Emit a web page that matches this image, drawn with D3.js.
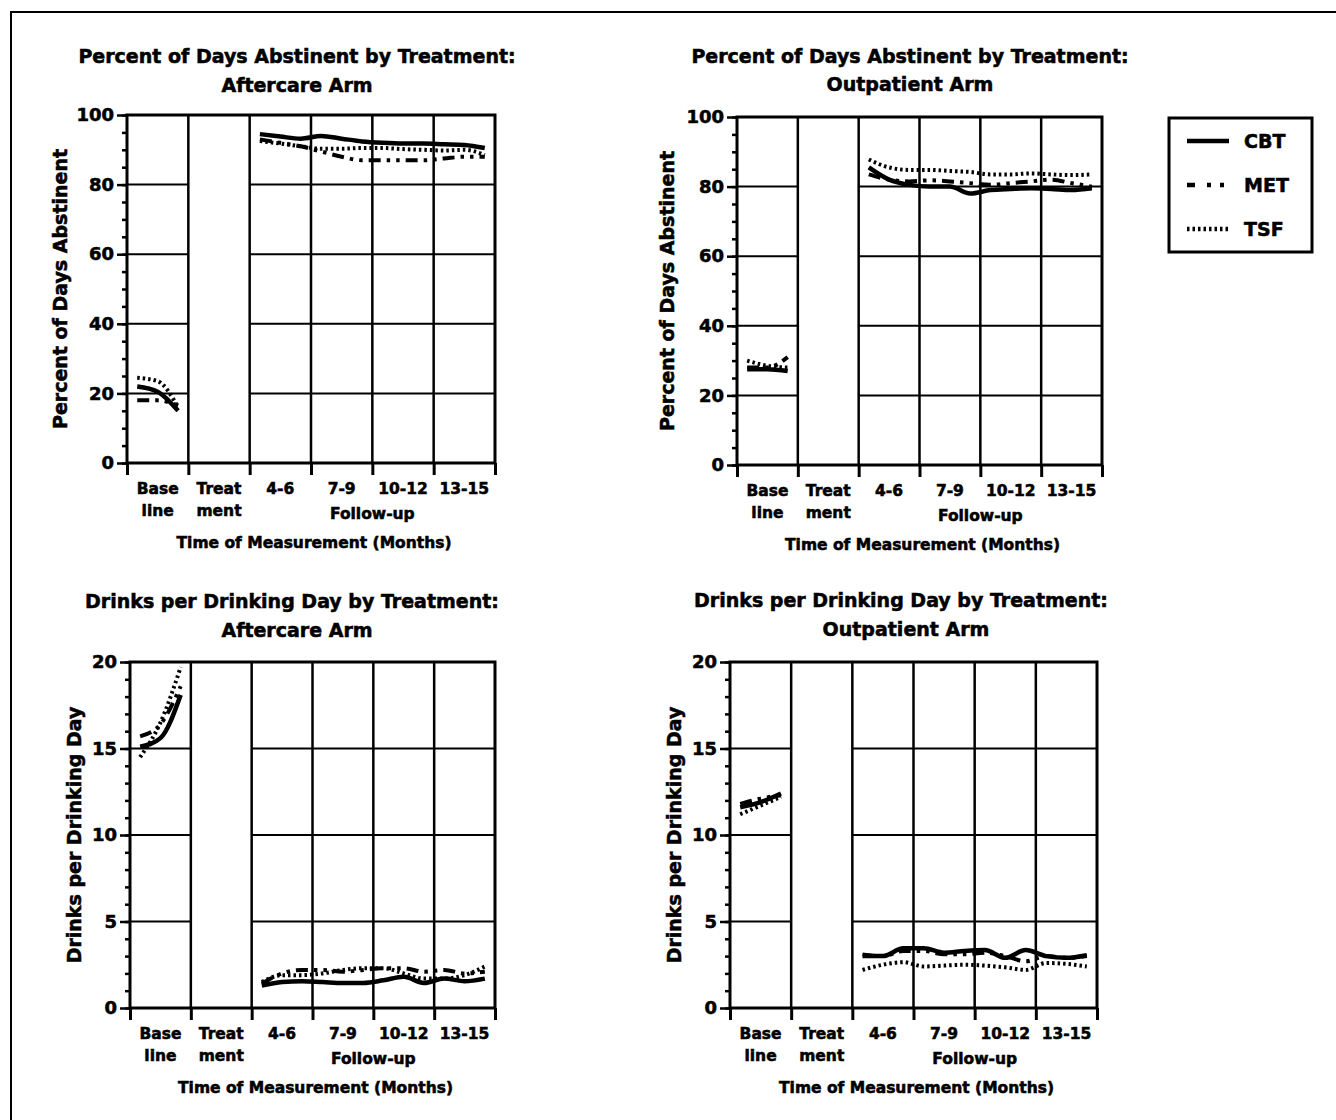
<!DOCTYPE html>
<html>
<head>
<meta charset="utf-8">
<script src="https://cdn.jsdelivr.net/npm/d3@7"></script>
<style>
  html, body { margin: 0; padding: 0; background: #fff; }
  svg { display: block; }
  text { font-family: "DejaVu Sans", "Liberation Sans", sans-serif; font-weight: bold; fill: #000;
         stroke: #000; stroke-width: 0.55px; }
</style>
</head>
<body>
<svg id="chart" width="1336" height="1120"></svg>
<script>
// Timeline in months: baseline months -2..0, treatment months 1..3, follow-up months 4..15
const baselineMonths = [-2, -1, 0];
const followupMonths = [4, 5, 6, 7, 8, 9, 10, 11, 12, 13, 14, 15];
const columnBounds = [-3, 0, 3, 6, 9, 12, 15];
const columnLabels = [["Base", "line"], ["Treat", "ment"], ["4-6"], ["7-9"], ["10-12"], ["13-15"]];
const treatments = ["CBT", "MET", "TSF"];

// Percent of days abstinent, aftercare arm (rows: CBT, MET, TSF)
const pdaAftercareBaseline = [
  [22, 20.5, 15],
  [18, 18, 16.5],
  [24.5, 23.5, 16]
];
const pdaAftercareFollowup = [
  [94.5, 93.8, 93.2, 94, 93.2, 92.4, 92, 91.8, 91.8, 91.6, 91.4, 90.5],
  [93, 92, 91, 89.5, 88, 87, 87, 87, 87, 87.5, 88, 88],
  [92.5, 91.8, 91, 90.3, 90.3, 90.5, 90.5, 90.2, 90, 89.8, 90, 88.5]
];

// Percent of days abstinent, outpatient arm
const pdaOutpatientBaseline = [
  [27.5, 27.5, 27],
  [28, 28, 31],
  [30, 28.5, 28]
];
const pdaOutpatientFollowup = [
  [85.5, 82, 80.5, 80, 80, 78, 79, 79.3, 79.5, 79.3, 79, 79.5],
  [83.5, 82, 81.5, 81.8, 81.5, 81, 80.5, 81, 81.5, 82, 81, 80],
  [87.8, 85.5, 84.8, 84.8, 84.5, 84.2, 83.5, 83.5, 83.8, 83.5, 83.3, 83.5]
];

// Drinks per drinking day, aftercare arm
const ddAftercareBaseline = [
  [15.1, 15.6, 18.1],
  [15.7, 16.4, 18.6],
  [14.5, 16.5, 19.7]
];
const ddAftercareFollowup = [
  [1.3, 1.5, 1.55, 1.5, 1.45, 1.45, 1.6, 1.8, 1.45, 1.7, 1.55, 1.7],
  [1.4, 2.0, 2.2, 2.2, 2.1, 2.2, 2.3, 2.3, 2.1, 2.2, 2.0, 2.1],
  [1.5, 1.9, 1.9, 2.0, 2.2, 2.3, 2.3, 2.0, 1.7, 1.7, 1.9, 2.4]
];

// Drinks per drinking day, outpatient arm
const ddOutpatientBaseline = [
  [11.6, 11.9, 12.4],
  [11.8, 12.1, 12.3],
  [11.2, 11.7, 12.2]
];
const ddOutpatientFollowup = [
  [3.0, 3.0, 3.45, 3.45, 3.2, 3.3, 3.35, 2.9, 3.35, 3.0, 2.9, 3.05],
  [3.1, 3.0, 3.3, 3.3, 3.1, 3.1, 3.2, 3.0, 2.7, 3.0, 2.9, 3.0],
  [2.2, 2.5, 2.65, 2.4, 2.45, 2.5, 2.45, 2.35, 2.2, 2.6, 2.55, 2.4]
];

const pdaMajor = [0, 20, 40, 60, 80, 100];
const pdaMinor = d3.range(0, 101, 5);
const ddMajor = [0, 5, 10, 15, 20];
const ddMinor = d3.range(0, 21, 1);

// Line styles per treatment
const lineStyles = {
  CBT: { width: 4.5, dash: null },
  MET: { width: 4, dash: "12,6,3.5,6,3.5,6" },
  TSF: { width: 4, dash: "2.5,3" }
};

const panels = [
  { title: ["Percent of Days Abstinent by Treatment:", "Aftercare Arm"], titleX: [297, 297], titleY: [63, 92],
    yLabel: "Percent of Days Abstinent", yLabelX: 60, yMax: 100, major: pdaMajor, minor: pdaMinor,
    x0: 127, x1: 495, top: 115, bottom: 463,
    base: pdaAftercareBaseline, follow: pdaAftercareFollowup },
  { title: ["Percent of Days Abstinent by Treatment:", "Outpatient Arm"], titleX: [910, 910], titleY: [63, 91],
    yLabel: "Percent of Days Abstinent", yLabelX: 667, yMax: 100, major: pdaMajor, minor: pdaMinor,
    x0: 737, x1: 1102, top: 117, bottom: 465,
    base: pdaOutpatientBaseline, follow: pdaOutpatientFollowup },
  { title: ["Drinks per Drinking Day by Treatment:", "Aftercare Arm"], titleX: [292, 297], titleY: [608, 637],
    yLabel: "Drinks per Drinking Day", yLabelX: 74, yMax: 20, major: ddMajor, minor: ddMinor,
    x0: 130, x1: 495, top: 662, bottom: 1008,
    base: ddAftercareBaseline, follow: ddAftercareFollowup },
  { title: ["Drinks per Drinking Day by Treatment:", "Outpatient Arm"], titleX: [901, 906], titleY: [607, 636],
    yLabel: "Drinks per Drinking Day", yLabelX: 674, yMax: 20, major: ddMajor, minor: ddMinor,
    x0: 730, x1: 1097, top: 662, bottom: 1008,
    base: ddOutpatientBaseline, follow: ddOutpatientFollowup }
];

const svg = d3.select("#chart");

// Page frame (top and left rules)
svg.append("path")
  .attr("d", "M11,1120V12H1336")
  .attr("fill", "none").attr("stroke", "#000").attr("stroke-width", 2);

panels.forEach(p => {
  const g = svg.append("g");
  const x = d3.scaleLinear().domain([-3, 15]).range([p.x0, p.x1]);
  const y = d3.scaleLinear().domain([0, p.yMax]).range([p.bottom, p.top]);

  // Titles
  p.title.forEach((t, i) => {
    g.append("text").attr("x", p.titleX[i]).attr("y", p.titleY[i])
      .attr("text-anchor", "middle").style("font-size", "19px").text(t);
  });

  // Horizontal gridlines in baseline and follow-up columns (treatment column left blank)
  const inner = p.major.filter(v => v > 0 && v < p.yMax);
  [[-3, 0], [3, 15]].forEach(([a, b]) => {
    g.selectAll(null).data(inner).enter().append("line")
      .attr("x1", x(a)).attr("x2", x(b))
      .attr("y1", d => y(d)).attr("y2", d => y(d))
      .attr("stroke", "#000").attr("stroke-width", 2);
  });

  // Column dividers
  g.selectAll(null).data(columnBounds.slice(1, -1)).enter().append("line")
    .attr("x1", d => x(d)).attr("x2", d => x(d))
    .attr("y1", p.top).attr("y2", p.bottom)
    .attr("stroke", "#000").attr("stroke-width", 2.5);

  // Plot frame
  g.append("rect")
    .attr("x", p.x0).attr("y", p.top)
    .attr("width", p.x1 - p.x0).attr("height", p.bottom - p.top)
    .attr("fill", "none").attr("stroke", "#000").attr("stroke-width", 3);

  // Left axis: minor ticks, then major ticks with labels
  const minorAxis = g.append("g").attr("transform", `translate(${p.x0},0)`)
    .call(d3.axisLeft(y).tickValues(p.minor).tickSize(5).tickFormat(""));
  const majorAxis = g.append("g").attr("transform", `translate(${p.x0},0)`)
    .call(d3.axisLeft(y).tickValues(p.major).tickSize(10).tickPadding(3).tickFormat(d3.format("d")));
  [minorAxis, majorAxis].forEach(a => {
    a.select(".domain").remove();
    a.selectAll(".tick line").attr("stroke", "#000").attr("stroke-width", 2.5);
  });
  majorAxis.selectAll(".tick text")
    .style("font-size", "18px").style("font-family", "DejaVu Sans").style("font-weight", "bold")
    .attr("fill", "#000").attr("stroke", "#000").attr("stroke-width", 0.55);

  // Bottom axis: ticks at column boundaries
  const xAxis = g.append("g").attr("transform", `translate(0,${p.bottom})`)
    .call(d3.axisBottom(x).tickValues(columnBounds).tickSize(12).tickFormat(""));
  xAxis.select(".domain").remove();
  xAxis.selectAll(".tick line").attr("stroke", "#000").attr("stroke-width", 3);

  // Column labels
  columnLabels.forEach((lbl, i) => {
    const cx = x((columnBounds[i] + columnBounds[i + 1]) / 2);
    lbl.forEach((t, j) => {
      g.append("text").attr("x", cx).attr("y", p.bottom + 31 + j * 22)
        .attr("text-anchor", "middle").style("font-size", "15.5px").text(t);
    });
  });
  g.append("text").attr("x", x(9)).attr("y", p.bottom + 56)
    .attr("text-anchor", "middle").style("font-size", "15.5px").text("Follow-up");
  g.append("text").attr("x", (p.x0 + p.x1) / 2 + 3).attr("y", p.bottom + 85)
    .attr("text-anchor", "middle").style("font-size", "15.5px").text("Time of Measurement (Months)");

  // Y axis title
  g.append("text")
    .attr("transform", `translate(${p.yLabelX},${(p.top + p.bottom) / 2}) rotate(-90)`)
    .attr("text-anchor", "middle").attr("dominant-baseline", "central")
    .style("font-size", "19px").text(p.yLabel);

  // Series lines
  const line = d3.line().x(d => x(d[0] - 0.5)).y(d => y(d[1])).curve(d3.curveMonotoneX);
  treatments.forEach((t, k) => {
    const st = lineStyles[t];
    [[baselineMonths, p.base[k]], [followupMonths, p.follow[k]]].forEach(([months, vals]) => {
      g.append("path")
        .datum(months.map((m, i) => [m, vals[i]]))
        .attr("d", line)
        .attr("fill", "none").attr("stroke", "#000")
        .attr("stroke-width", st.width)
        .attr("stroke-dasharray", st.dash)
        .attr("stroke-linejoin", "round");
    });
  });
});

// Legend
const legend = svg.append("g");
legend.append("rect").attr("x", 1169).attr("y", 118).attr("width", 143).attr("height", 134)
  .attr("fill", "#fff").attr("stroke", "#000").attr("stroke-width", 3);
const legendDash = { CBT: null, MET: "8,12,4,9,4,40", TSF: "2.5,3" };
treatments.forEach((t, i) => {
  const ly = 141 + i * 44;
  legend.append("line").attr("x1", 1187).attr("x2", 1229).attr("y1", ly).attr("y2", ly)
    .attr("stroke", "#000").attr("stroke-width", 4.5)
    .attr("stroke-dasharray", legendDash[t]);
  legend.append("text").attr("x", 1244).attr("y", ly)
    .attr("dominant-baseline", "central").style("font-size", "19px").text(t);
});
</script>
</body>
</html>
